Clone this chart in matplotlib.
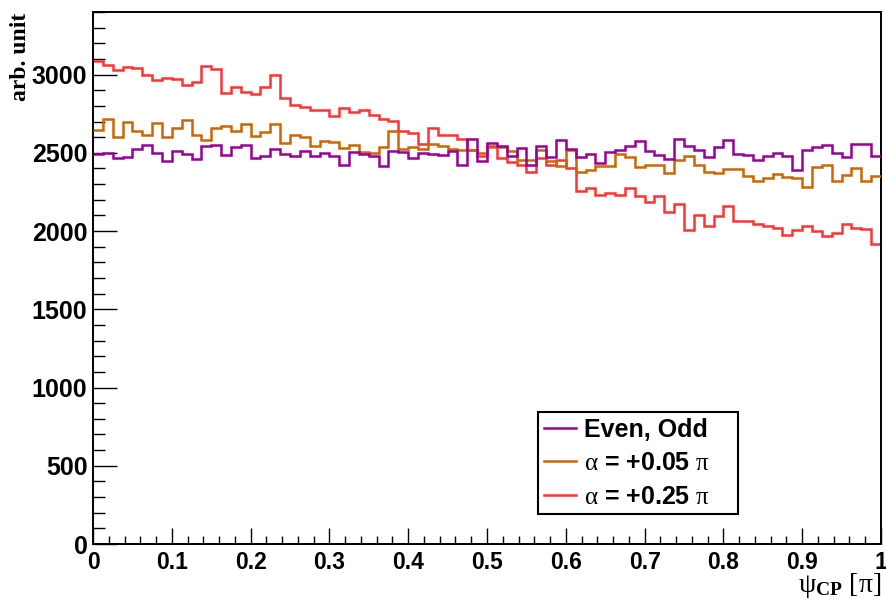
"""
psi_CP distributions for the CP-even/odd case and two mixing angles,
drawn as ROOT-like step histograms (80 bins on [0, 1] pi).
"""

import numpy as np
import matplotlib
matplotlib.use('Agg')
import matplotlib.pyplot as plt
from matplotlib.lines import Line2D
from matplotlib.font_manager import FontProperties
from matplotlib.ticker import MultipleLocator

plt.rcParams['mathtext.fontset'] = 'custom'
plt.rcParams['mathtext.rm'] = 'Liberation Serif'
plt.rcParams['mathtext.it'] = 'Liberation Serif:italic'
plt.rcParams['mathtext.bf'] = 'Liberation Serif:bold'

# bin edges
edges = np.linspace(0.0, 1.0, 81)

# Even, Odd
even_odd = [2493, 2497, 2467, 2476, 2525, 2550, 2499, 2446, 2512, 2493,
            2463, 2541, 2548, 2488, 2539, 2552, 2467, 2482, 2522, 2494,
            2482, 2512, 2482, 2499, 2482, 2424, 2503, 2493, 2482, 2416,
            2514, 2506, 2465, 2501, 2490, 2486, 2514, 2424, 2590, 2448,
            2563, 2541, 2482, 2531, 2420, 2546, 2471, 2580, 2527, 2476,
            2495, 2433, 2503, 2520, 2541, 2574, 2510, 2486, 2463, 2589,
            2546, 2520, 2473, 2539, 2582, 2493, 2486, 2454, 2482, 2501,
            2482, 2392, 2520, 2539, 2550, 2497, 2476, 2555, 2555, 2478]

# alpha = +0.05 pi
alpha_005 = [2648, 2717, 2601, 2700, 2642, 2614, 2691, 2603, 2661, 2710,
             2616, 2580, 2659, 2672, 2638, 2685, 2605, 2634, 2683, 2563,
             2616, 2599, 2541, 2578, 2570, 2531, 2548, 2503, 2499, 2539,
             2640, 2525, 2539, 2527, 2557, 2546, 2525, 2520, 2520, 2499,
             2540, 2540, 2512, 2456, 2456, 2518, 2450, 2414, 2520, 2378,
             2388, 2416, 2416, 2490, 2473, 2410, 2424, 2420, 2370, 2456,
             2480, 2422, 2375, 2369, 2399, 2399, 2350, 2318, 2341, 2367,
             2346, 2339, 2282, 2410, 2420, 2322, 2360, 2403, 2318, 2350]

# alpha = +0.25 pi
alpha_025 = [3090, 3064, 3028, 3049, 3041, 2998, 2966, 2979, 2973, 2932,
             2953, 3058, 3038, 2880, 2919, 2887, 2874, 2923, 2996, 2851,
             2806, 2793, 2772, 2772, 2734, 2787, 2761, 2776, 2740, 2717,
             2701, 2638, 2627, 2557, 2657, 2612, 2616, 2589, 2520, 2478,
             2541, 2467, 2444, 2424, 2375, 2467, 2424, 2456, 2403, 2254,
             2275, 2228, 2243, 2232, 2273, 2226, 2186, 2226, 2122, 2175,
             2009, 2105, 2030, 2098, 2162, 2062, 2062, 2047, 2030, 2019,
             1977, 2005, 2034, 1998, 1966, 1987, 2045, 2019, 2015, 1919]

labels = ['Even, Odd',
          r'$\mathrm{\alpha}$ = +0.05 $\mathrm{\pi}$',
          r'$\mathrm{\alpha}$ = +0.25 $\mathrm{\pi}$']
colors = ['#990099', '#cc6600', '#ff3333']

fig = plt.figure(figsize=(8.87, 6.03), dpi=100)
ax = fig.add_axes([93 / 887, 59 / 603, 788 / 887, 532 / 603])

lw = 1.8
ax.stairs(alpha_025, edges, baseline=None, color=colors[2], lw=lw, zorder=2)
ax.stairs(alpha_005, edges, baseline=None, color=colors[1], lw=lw, zorder=3)
ax.stairs(even_odd, edges, baseline=None, color=colors[0], lw=lw, zorder=4)

ax.set_xlim(0, 1)
ax.set_ylim(0, 3400)

ax.xaxis.set_major_locator(MultipleLocator(0.1))
ax.xaxis.set_minor_locator(MultipleLocator(0.02))
ax.yaxis.set_major_locator(MultipleLocator(500))
ax.yaxis.set_minor_locator(MultipleLocator(100))

for s in ax.spines.values():
    s.set_linewidth(1.4)

ax.tick_params(axis='both', which='both', direction='in', width=1.0,
               top=False, right=False)
ax.tick_params(axis='x', which='major', length=11.5, pad=5)
ax.tick_params(axis='x', which='minor', length=5.8)
ax.tick_params(axis='y', which='major', length=17, pad=4)
ax.tick_params(axis='y', which='minor', length=8.5)

ax.set_xticks(np.round(np.arange(0, 1.01, 0.1), 1))
ax.set_xticklabels(['0', '0.1', '0.2', '0.3', '0.4', '0.5',
                    '0.6', '0.7', '0.8', '0.9', '1'])
for t in ax.get_xticklabels():
    t.set_fontfamily('Liberation Sans')
    t.set_fontweight('bold')
    t.set_fontsize(16.5)
for t in ax.get_yticklabels():
    t.set_fontfamily('Liberation Sans')
    t.set_fontweight('bold')
    t.set_fontsize(18)

fig.text(21 / 887, 1 - 13 / 603, 'arb. unit', rotation=90, ha='center',
         va='top', family='Liberation Serif', weight='bold', fontsize=17)
fig.text(881 / 887, 1 - 592 / 603,
         r'$\mathrm{\psi}_{\mathbf{CP}}\ \mathrm{[\pi]}$',
         ha='right', va='baseline', fontsize=20)

handles = [Line2D([], [], color=c, lw=lw) for c in colors]
leg = ax.legend(handles, labels, loc='upper left',
                bbox_to_anchor=(0.565, 0.0545, 0.2535, 0.1935),
                mode='expand', frameon=True, fancybox=False,
                edgecolor='black', framealpha=1, borderaxespad=0,
                prop=FontProperties(family='Liberation Sans',
                                    weight='bold', size=18),
                handlelength=1.3, handletextpad=0.3, labelspacing=0.38,
                borderpad=0.22)
leg.get_frame().set_linewidth(1.5)

fig.savefig('out.png', dpi=100)
